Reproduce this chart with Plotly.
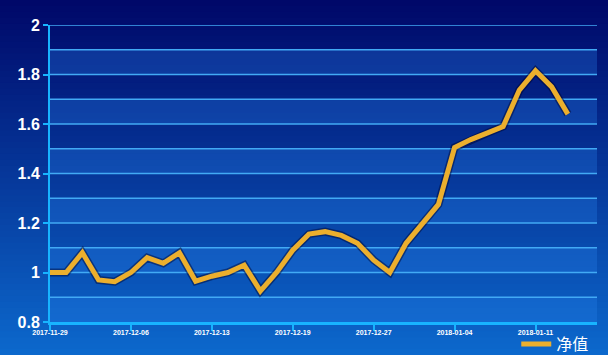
import plotly.graph_objects as go

dates = ["2017-11-29", "2017-11-30", "2017-12-01", "2017-12-04", "2017-12-05",
         "2017-12-06", "2017-12-07", "2017-12-08", "2017-12-11", "2017-12-12",
         "2017-12-13", "2017-12-14", "2017-12-15", "2017-12-17", "2017-12-18",
         "2017-12-19", "2017-12-20", "2017-12-21", "2017-12-22", "2017-12-26",
         "2017-12-27", "2017-12-28", "2017-12-29", "2018-01-02", "2018-01-03",
         "2018-01-04", "2018-01-05", "2018-01-08", "2018-01-09", "2018-01-10",
         "2018-01-11", "2018-01-12", "2018-01-15"]
nav = [1.00, 1.00, 1.08, 0.97, 0.963, 1.00, 1.06, 1.037, 1.08, 0.965,
       0.985, 1.00, 1.03, 0.925, 1.00, 1.09, 1.155, 1.165, 1.15, 1.118,
       1.05, 1.00, 1.118, 1.20, 1.275, 1.505, 1.537, 1.563, 1.59, 1.737,
       1.815, 1.75, 1.64]
series_name = "净值"
tick_dates = dates[::5]
y_ticks = [0.8, 1.0, 1.2, 1.4, 1.6, 1.8, 2.0]
band_edges = [0.8, 0.9, 1.0, 1.1, 1.2, 1.3, 1.4, 1.5, 1.6, 1.7, 1.8, 1.9, 2.0]

fig = go.Figure()

# shadow
fig.add_trace(go.Scatter(x=dates, y=nav, mode="lines", showlegend=False, hoverinfo="skip",
                         line=dict(color="rgba(0,0,40,0.45)", width=8)))
fig.add_trace(go.Scatter(x=dates, y=nav, mode="lines", name=series_name,
                         line=dict(color="#ecaf2d", width=5)))

shapes = []
# background gradient
top = (0, 8, 105)
bot = (12, 104, 204)
n = 60
H = 355 / 297
for i in range(n):
    t = i / (n - 1)
    c = tuple(int(round(top[k] + (bot[k] - top[k]) * t)) for k in range(3))
    y1 = 1 + 25 / 297 - i * H / n
    y0 = y1 - H / n - 0.004
    shapes.append(dict(type="rect", xref="paper", yref="paper", x0=-50 / 547, x1=1 + 11 / 547,
                       y0=y0, y1=y1, fillcolor="rgb(%d,%d,%d)" % c, line=dict(width=0), layer="below"))
# alternating lighter bands
for j in range(0, len(band_edges) - 1, 2):
    shapes.append(dict(type="rect", xref="paper", yref="y", x0=0, x1=1,
                       y0=band_edges[j], y1=band_edges[j + 1],
                       fillcolor="rgba(40,130,235,0.30)", line=dict(width=0), layer="below"))

fig.update_layout(
    width=608, height=355,
    margin=dict(l=50, r=11, t=25, b=33, autoexpand=False),
    paper_bgcolor="#0a5cbc", plot_bgcolor="rgba(0,0,0,0)",
    shapes=shapes,
    showlegend=True,
    legend=dict(x=0.995, xanchor="right", y=-0.074, yanchor="middle", orientation="h",
                font=dict(family="Noto Sans CJK SC", size=16, color="white"),
                bgcolor="rgba(0,0,0,0)", itemwidth=30),
    xaxis=dict(type="category", range=[0, 33.8], tickmode="array", tickvals=tick_dates,
               ticktext=tick_dates, showgrid=False, zeroline=False, automargin=False,
               showline=True, linecolor="#18b4ff", linewidth=3,
               ticks="outside", ticklen=6, tickwidth=2, tickcolor="#18b4ff",
               ticklabelstandoff=-4,
               tickfont=dict(family="Liberation Sans", size=7, color="white", weight="bold"),
               tickangle=0),
    yaxis=dict(range=[0.8, 2.0], tickvals=y_ticks, ticktext=["0.8", "1", "1.2", "1.4", "1.6", "1.8", "2"],
               showgrid=False, zeroline=False, automargin=False,
               showline=True, linecolor="#18b4ff", linewidth=2,
               ticks="outside", ticklen=5, tickwidth=2, tickcolor="#18b4ff",
               tickfont=dict(family="Liberation Sans", size=16, color="white", weight="bold")),
)
# grid lines every 0.1
for v in band_edges[1:]:
    fig.add_hline(y=v, line=dict(color="#42aaf5", width=1.5), layer="below")

fig.write_html("out.html", config={"displayModeBar": False},
               post_script="document.body.style.margin='0';document.body.style.overflow='hidden';")
